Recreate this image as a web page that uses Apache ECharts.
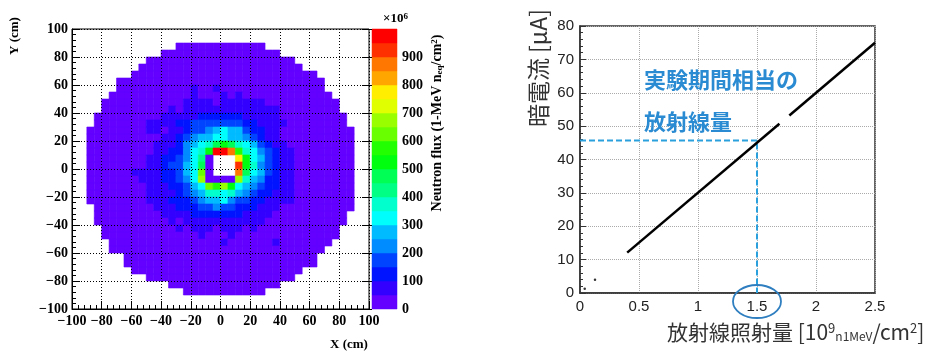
<!DOCTYPE html>
<html>
<head>
<meta charset="utf-8">
<script src="https://cdn.jsdelivr.net/npm/echarts@6/dist/echarts.min.js"></script>
<style>
html,body{margin:0;padding:0;background:#fff;}
#chart{width:935px;height:351px;}
</style>
</head>
<body>
<div id="chart"></div>
<script>
// ---------------- DATA ----------------
// Left panel: neutron flux map. 5 cm bins; rows from y=+100 (top) down to y=-100,
// columns from x=-100 to x=+100 (spaces only group 10 columns for readability).
// '.' = empty bin; 0-9,a-j = colour level (each level = 50 x10^6 n_eq/cm^2).
const fluxXStart = -100;
const fluxYStart = 100;
const fluxBin = 5;
const fluxLevelWidth = 50;
const fluxRows = [
  ".......... .......... .......... ..........",
  ".......... .......... .......... ..........",
  ".......... ....000000 000000.... ..........",
  ".......... ..00000000 00000000.. ..........",
  ".......... 0000000000 0000000000 ..........",
  ".........0 0000000000 0000000000 0.........",
  "........00 0000000000 0000000000 000.......",
  "......0000 0000000000 0000000000 0000......",
  "......0000 0000001001 0000000000 0000......",
  ".....00000 0000001000 1010000000 00000.....",
  "....000000 0000011110 1111110000 000000....",
  "....000000 0001011111 1111111100 000000....",
  "...0000000 0011111222 2221111100 0000000...",
  "...0000000 1111223333 3332211110 0000000...",
  "..00000000 1101123345 6553221100 00000000..",
  "..00000000 0011234556 6554321100 00000000..",
  "..00000000 0111245679 a976532110 00000000..",
  "..00000000 01122467aj jhb7643211 00000000..",
  "..00000000 112234680. ..fa653211 00000000..",
  "..00000000 112335690. ..ia743211 00000000..",
  "..00000011 1122356c0. ..h9653211 00000000..",
  "..00000001 1122346d00 00d7542211 00000000..",
  "..00000000 11122356cb da65432211 00000000..",
  "..00000000 1111234577 6754322111 00000000..",
  "..00000000 1112223455 6433221111 00000000..",
  "...0000000 0111222334 3322211100 00000000..",
  "...0000000 0011112222 2221111000 0000000...",
  "...0000000 0001011111 1111110000 0000000...",
  "....000000 0000101110 1110100000 000000....",
  "....000000 0000000100 0100000000 000000....",
  ".....00000 0000000000 1000000100 00000.....",
  ".....00000 0000000000 0000000000 0000......",
  ".......000 0000000000 0000000000 000.......",
  ".......000 0000000000 0000000000 000.......",
  "........00 0000000000 0000000000 0.........",
  ".......... 0000000000 0000000000 ..........",
  ".......... ...0000000 00000000.. ..........",
  ".......... .....00000 000000.... ..........",
  ".......... .......... .......... ..........",
  ".......... .......... .......... .........."
];
const mapTicks = [-100, -80, -60, -40, -20, 0, 20, 40, 60, 80, 100];
const colorbarTicks = [0, 100, 200, 300, 400, 500, 600, 700, 800, 900, 1000];

// Right panel: dark current vs irradiation
const doseTicks = [0, 0.5, 1, 1.5, 2, 2.5];
const currentTicks = [0, 10, 20, 30, 40, 50, 60, 70, 80];
const currentSegment1 = [[0.40, 12.1], [1.69, 50.7]];
const currentSegment2 = [[1.774, 53.2], [2.50, 75.0]];
const strayPoints = [[0.04, 1.3], [0.127, 4.0]];
const markedDose = 1.5;
const markedCurrent = 45.7;

// ---------------- STYLE ----------------
const levelColors = ['#6300ff','#3300ff','#0014ff','#0044ff','#008bff','#00bbff','#00fffc','#00ffcc',
  '#00ff85','#00ff55','#00ff0e','#22ff00','#69ff00','#99ff00','#e0ff00','#ffee00',
  '#ffa700','#ff7700','#ff3000','#ff0000'];
const serif = '"Liberation Serif", "DejaVu Serif", serif';
const sans = '"Liberation Sans", Arial, sans-serif';
const jp = '"Noto Sans CJK JP", "Noto Sans", sans-serif';
const blueTxt = '#2a8bd2';

// ---------------- BUILD ----------------
const cells = [];
fluxRows.forEach((row, r) => {
  const s = row.replace(/ /g, '');
  for (let c = 0; c < s.length; c++) {
    const ch = s[c];
    if (ch === '.') continue;
    const level = parseInt(ch, 36);
    cells.push([fluxXStart + c * fluxBin, fluxYStart - (r + 1) * fluxBin, (level + 0.5) * fluxLevelWidth]);
  }
});
const cbCells = levelColors.map((c, i) => [i * fluxLevelWidth, (i + 1) * fluxLevelWidth]);

function colorOf(v) {
  return levelColors[Math.max(0, Math.min(levelColors.length - 1, Math.floor(v / fluxLevelWidth)))];
}
function renderCell(params, api) {
  const x = api.value(0), y = api.value(1), v = api.value(2);
  const a = api.coord([x, y + fluxBin]);
  const b = api.coord([x + fluxBin, y]);
  const col = colorOf(v);
  return {type: 'rect', shape: {x: a[0], y: a[1], width: b[0] - a[0], height: b[1] - a[1]},
          style: {fill: col, stroke: col, lineWidth: 0.6}};
}
function renderBar(params, api) {
  const lo = api.value(0), hi = api.value(1);
  const a = api.coord([0, hi]);
  const b = api.coord([1, lo]);
  const col = colorOf((lo + hi) / 2);
  return {type: 'rect', shape: {x: a[0], y: a[1], width: b[0] - a[0], height: b[1] - a[1]},
          style: {fill: col, stroke: col, lineWidth: 0.5}};
}
const minus = v => String(v).replace('-', '\u2212');
const serifLabel = {fontFamily: serif, fontWeight: 'bold', fontSize: 14, color: '#000'};

const chart = echarts.init(document.getElementById('chart'), null, {renderer: 'canvas'});
const option = {
  animation: false,
  backgroundColor: '#fff',
  grid: [
    {left: 72, top: 29, width: 297, height: 280, show: true, borderColor: '#000', borderWidth: 1, backgroundColor: 'transparent'},
    {left: 372, top: 29, width: 25, height: 280, show: false},
    {left: 580, top: 26, width: 295, height: 267, show: true, borderColor: '#333', borderWidth: 1.5, backgroundColor: 'transparent'}
  ],
  xAxis: [
    {gridIndex: 0, type: 'value', min: mapTicks[0], max: mapTicks[mapTicks.length - 1], interval: mapTicks[1] - mapTicks[0], z: 10,
     axisLine: {show: true, onZero: false, lineStyle: {color: '#000', width: 1}},
     axisTick: {show: true, inside: true, length: 8, lineStyle: {color: '#000'}},
     minorTick: {show: true, splitNumber: 5, length: 4, lineStyle: {color: '#000'}},
     splitLine: {show: true, lineStyle: {color: '#000', width: 1, type: [1, 2]}},
     axisLabel: Object.assign({margin: 5, formatter: minus, showMinLabel: true, showMaxLabel: true}, serifLabel)},
    {gridIndex: 1, type: 'value', min: 0, max: 1, show: false},
    {gridIndex: 2, type: 'value', min: doseTicks[0], max: doseTicks[doseTicks.length - 1], interval: doseTicks[1] - doseTicks[0],
     axisLine: {show: true, onZero: false, lineStyle: {color: '#333', width: 1.5}},
     axisTick: {show: false},
     splitLine: {show: true, lineStyle: {color: '#aaa', width: 1, type: [1, 1]}},
     axisLabel: {margin: 6, fontFamily: sans, fontSize: 15, color: '#222', showMinLabel: true, showMaxLabel: true}}
  ],
  yAxis: [
    {gridIndex: 0, type: 'value', min: mapTicks[0], max: mapTicks[mapTicks.length - 1], interval: mapTicks[1] - mapTicks[0], z: 10,
     axisLine: {show: true, onZero: false, lineStyle: {color: '#000', width: 1}},
     axisTick: {show: true, inside: true, length: 8, lineStyle: {color: '#000'}},
     minorTick: {show: true, splitNumber: 5, length: 4, lineStyle: {color: '#000'}},
     splitLine: {show: true, lineStyle: {color: '#000', width: 1, type: [1, 2]}},
     axisLabel: Object.assign({margin: 4, formatter: minus, showMinLabel: true, showMaxLabel: true}, serifLabel)},
    {gridIndex: 1, type: 'value', position: 'right', min: colorbarTicks[0], max: colorbarTicks[colorbarTicks.length - 1],
     interval: colorbarTicks[1] - colorbarTicks[0], z: 10,
     axisLine: {show: false},
     axisTick: {show: true, inside: true, length: 10, lineStyle: {color: '#000', width: 1}},
     splitLine: {show: false},
     axisLabel: Object.assign({margin: 5, showMinLabel: true, showMaxLabel: true,
       formatter: v => (v >= colorbarTicks[colorbarTicks.length - 1] ? '' : String(v))}, serifLabel)},
    {gridIndex: 2, type: 'value', min: currentTicks[0], max: currentTicks[currentTicks.length - 1], interval: currentTicks[1] - currentTicks[0],
     axisLine: {show: true, onZero: false, lineStyle: {color: '#333', width: 1.5}},
     axisTick: {show: true, inside: true, length: 6, lineStyle: {color: '#333'}},
     minorTick: {show: true, splitNumber: 5, length: 3, lineStyle: {color: '#333'}},
     splitLine: {show: true, lineStyle: {color: '#aaa', width: 1, type: [1, 1]}},
     axisLabel: {margin: 6, fontFamily: sans, fontSize: 15, color: '#222', showMinLabel: true, showMaxLabel: true}}
  ],
  series: [
    {type: 'custom', xAxisIndex: 0, yAxisIndex: 0, data: cells, renderItem: renderCell, encode: {x: 0, y: 1}, z: 2, clip: true},
    {type: 'custom', xAxisIndex: 1, yAxisIndex: 1, data: cbCells, renderItem: renderBar, encode: {y: [0, 1]}, z: 2},
    {type: 'line', xAxisIndex: 2, yAxisIndex: 2, data: [[doseTicks[0], markedCurrent], [markedDose, markedCurrent], [markedDose, currentTicks[0]]],
     showSymbol: false, lineStyle: {color: '#2aa0dc', width: 2, type: [6, 3]}, z: 3},
    {type: 'line', xAxisIndex: 2, yAxisIndex: 2, data: currentSegment1, showSymbol: false, lineStyle: {color: '#000', width: 2.5}, z: 4},
    {type: 'line', xAxisIndex: 2, yAxisIndex: 2, data: currentSegment2, showSymbol: false, lineStyle: {color: '#000', width: 2.5}, z: 4},
    {type: 'scatter', xAxisIndex: 2, yAxisIndex: 2, data: strayPoints, symbolSize: 2.5, itemStyle: {color: '#000'}, z: 4}
  ]
};
chart.setOption(option);

const c15 = chart.convertToPixel({gridIndex: 2}, [markedDose, currentTicks[0]]);
chart.setOption({
  graphic: [
    {type: 'text', x: 15, y: 36, rotation: Math.PI / 2,
     style: {text: 'Y (cm)', fontFamily: serif, fontWeight: 'bold', fontSize: 13, fill: '#000', align: 'center', verticalAlign: 'middle'}},
    {type: 'text', x: 349, y: 345,
     style: {text: 'X (cm)', fontFamily: serif, fontWeight: 'bold', fontSize: 13, fill: '#000', align: 'center', verticalAlign: 'middle'}},
    {type: 'text', x: 383, y: 19,
     style: {text: '\u00d710{s|6}', fontFamily: serif, fontWeight: 'bold', fontSize: 13, fill: '#000', align: 'left', verticalAlign: 'middle',
             rich: {s: {fontFamily: serif, fontWeight: 'bold', fontSize: 9, verticalAlign: 'top', fill: '#000'}}}},
    {type: 'text', x: 437, y: 123, rotation: Math.PI / 2,
     style: {text: 'Neutron flux (1-MeV n{b|eq}/cm{t|2})', fontFamily: serif, fontWeight: 'bold', fontSize: 14, fill: '#000',
             align: 'center', verticalAlign: 'middle',
             rich: {b: {fontFamily: serif, fontWeight: 'bold', fontSize: 9, verticalAlign: 'bottom', fill: '#000'},
                    t: {fontFamily: serif, fontWeight: 'bold', fontSize: 9, verticalAlign: 'top', fill: '#000'}}}},
    {type: 'text', x: 538, y: 68, rotation: Math.PI / 2,
     style: {text: '暗電流 [μA]', fontFamily: jp, fontSize: 23, fill: '#333', align: 'center', verticalAlign: 'middle'}},
    {type: 'text', x: 667, y: 332,
     style: {text: '放射線照射量 [10{sup|9}{sub|n1MeV}/cm{sup|2}]', fontFamily: jp, fontSize: 21, fill: '#333', align: 'left', verticalAlign: 'middle',
             rich: {sup: {fontFamily: jp, fontSize: 13, verticalAlign: 'top', fill: '#333'},
                    sub: {fontFamily: jp, fontSize: 12, verticalAlign: 'bottom', fill: '#333'}}}},
    {type: 'text', x: 644, y: 80,
     style: {text: '実験期間相当の', fontFamily: jp, fontWeight: 'bold', fontSize: 22, fill: blueTxt, align: 'left', verticalAlign: 'middle'}},
    {type: 'text', x: 644, y: 122,
     style: {text: '放射線量', fontFamily: jp, fontWeight: 'bold', fontSize: 22, fill: blueTxt, align: 'left', verticalAlign: 'middle'}},
    {type: 'ellipse', shape: {cx: c15[0], cy: c15[1] + 8.5, rx: 24, ry: 16.5},
     style: {fill: 'none', stroke: '#2f7fc0', lineWidth: 1.8}, z: 20}
  ]
});
</script>
</body>
</html>
